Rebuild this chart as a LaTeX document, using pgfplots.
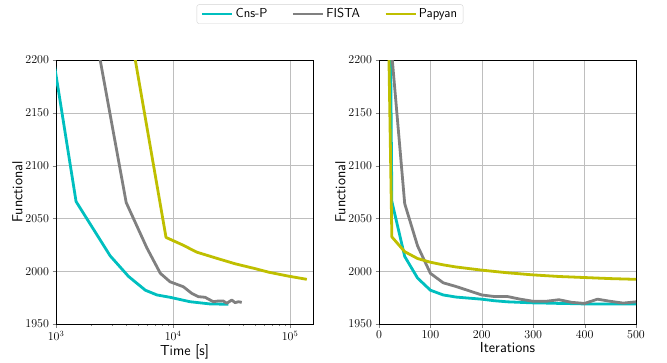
\documentclass[border=0pt]{standalone}
\usepackage{pgfplots}
\pgfplotsset{compat=1.18}
\definecolor{cnsp}{RGB}{0,191,191}
\definecolor{fista}{RGB}{128,128,128}
\definecolor{papyan}{RGB}{191,191,0}
\definecolor{gridc}{RGB}{190,190,190}
\begin{document}
\begin{tikzpicture}
\useasboundingbox (0,0) rectangle (667pt,-362pt);
\pgfplotsset{
  every axis/.append style={
    scale only axis, width=257pt, height=264pt,
    ymin=1950, ymax=2200, ytick={1950,2000,2050,2100,2150,2200},
    /pgf/number format/set thousands separator={},
    grid=major, major grid style={gridc, line width=0.6pt},
    tick align=outside, xtick pos=bottom, ytick pos=left,
    major tick length=3.5pt, minor tick length=2pt,
    axis line style={line width=0.9pt},
    tick label style={font=\fontsize{11.5}{13}\selectfont},
    label style={font=\sffamily\fontsize{14.5}{16}\selectfont},
    ylabel={Functional},
    ylabel style={yshift=-4pt},
    every axis plot/.append style={line width=2.8pt, line join=round, no markers},
  }
}
\begin{axis}[
  at={(56pt,-324pt)}, anchor=south west,
  xmode=log, xmin=1000, xmax=157000,
  xlabel={Time [s]},
  xlabel style={yshift=3pt},
  legend columns=3,
  legend style={at={(1.066,1.174)}, anchor=center, draw=gray!35, rounded corners=2pt,
    font=\sffamily\fontsize{13}{15}\selectfont, inner xsep=4pt, inner ysep=2pt,
    /tikz/every even column/.append style={column sep=22pt}},
  legend image code/.code={\draw[#1, line width=2.8pt] (0pt,0pt) -- (30pt,0pt);},
]
\addplot[cnsp] coordinates {(700,2294) (1484,2066) (2900,2014.6) (4170,1995) (5800,1982) (7290,1977.5) (9420,1975.3) (13970,1971.1) (20700,1969) (29700,1968.7)};
\addlegendentry{Cns-P}
\addplot[fista] coordinates {(1500,2480) (2340,2205) (3980,2065) (5980,2022) (7790,1998) (9420,1990) (12240,1985.3) (14450,1979) (16460,1975.9) (18780,1975.3) (22090,1971.1) (24380,1971.8) (26900,1971.8) (28750,1969.6) (31750,1972.7) (33900,1970.2) (36150,1971.1) (38650,1970.5)};
\addlegendentry{FISTA}
\addplot[papyan] coordinates {(590,2780) (8710,2032) (12000,2025) (16000,2018) (24000,2012) (34000,2007) (50000,2002.5) (66000,1999) (95000,1995.5) (139000,1992.3)};
\addlegendentry{Papyan}
\end{axis}
\begin{axis}[
  at={(379pt,-324pt)}, anchor=south west,
  xmin=0, xmax=500, xtick={0,100,200,300,400,500},
  xlabel={Iterations},
  xlabel style={yshift=3pt},
]
\addplot[cnsp] coordinates {(0,3500) (25,2066) (50,2014) (75,1993.5) (100,1982) (125,1977.5) (150,1975.5) (175,1974.5) (200,1973.5) (225,1972) (250,1971) (275,1970.5) (300,1970) (325,1969.8) (350,1969.5) (375,1969.3) (400,1969) (450,1969) (500,1969)};
\addplot[fista] coordinates {(0,3000) (25,2205) (50,2064) (75,2024) (100,1998) (125,1989) (150,1985.5) (175,1981.5) (200,1977.5) (225,1976) (250,1976) (275,1973.5) (300,1971.5) (325,1971.5) (350,1973) (375,1970.5) (400,1969.5) (425,1973.5) (450,1971.5) (475,1969.8) (500,1971)};
\addplot[papyan] coordinates {(0,2780) (25,2032.5) (50,2018.5) (75,2012) (100,2008.5) (125,2006) (150,2004) (175,2002.5) (200,2001) (250,1998.5) (300,1996.5) (350,1995) (400,1994) (450,1993) (500,1992.3)};
\end{axis}
\end{tikzpicture}
\end{document}
